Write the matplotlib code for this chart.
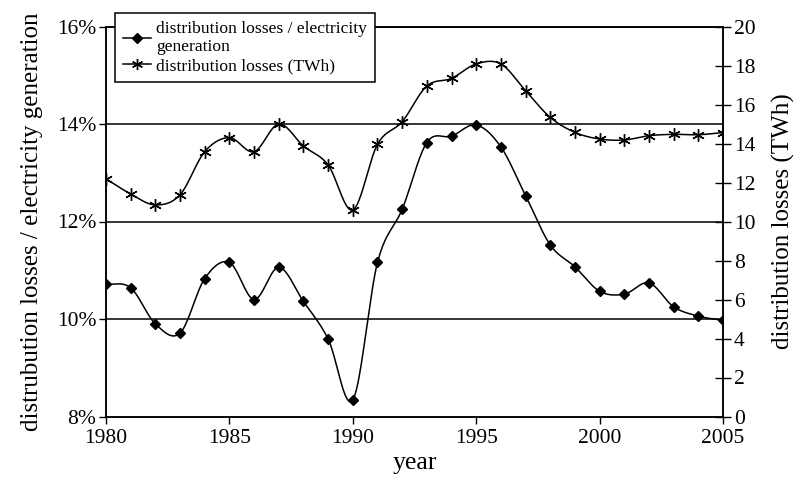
import numpy as np
import matplotlib
matplotlib.use("Agg")
from matplotlib import pyplot as plt
from matplotlib.ticker import FuncFormatter

plt.rcParams['font.family'] = ['Liberation Serif', 'DejaVu Serif']

years = list(range(1980, 2006))
loss_share = [10.72, 10.64, 9.90, 9.71, 10.83, 11.16, 10.40, 11.06, 10.36, 9.59,
              8.34, 11.16, 12.25, 13.62, 13.75, 13.98, 13.53, 12.53, 11.52, 11.07,
              10.57, 10.51, 10.74, 10.25, 10.06, 9.97]
loss_twh = [12.19, 11.41, 10.85, 11.37, 13.58, 14.30, 13.58, 15.00, 13.87, 12.90,
            10.59, 13.96, 15.12, 16.95, 17.34, 18.08, 18.08, 16.71, 15.34, 14.57,
            14.23, 14.18, 14.40, 14.47, 14.45, 14.56]
x_ticks = [1980, 1985, 1990, 1995, 2000, 2005]
left_ticks = [8, 10, 12, 14, 16]
right_ticks = list(range(0, 21, 2))


def smooth(xs, ys, n=20):
    # catmull-rom style smoothing like the spreadsheet "smoothed line"
    xs = np.asarray(xs, float)
    ys = np.asarray(ys, float)
    px = np.concatenate([[2 * xs[0] - xs[1]], xs, [2 * xs[-1] - xs[-2]]])
    py = np.concatenate([[2 * ys[0] - ys[1]], ys, [2 * ys[-1] - ys[-2]]])
    outx, outy = [], []
    t = np.linspace(0, 1, n, endpoint=False)
    for i in range(1, len(px) - 2):
        for p, out in ((px, outx), (py, outy)):
            p0, p1, p2, p3 = p[i - 1], p[i], p[i + 1], p[i + 2]
            out.extend(0.5 * ((2 * p1) + (-p0 + p2) * t
                              + (2 * p0 - 5 * p1 + 4 * p2 - p3) * t ** 2
                              + (-p0 + 3 * p1 - 3 * p2 + p3) * t ** 3))
    outx.append(xs[-1])
    outy.append(ys[-1])
    return outx, outy


fig = plt.figure(figsize=(7.97, 4.79), dpi=100)
ax = fig.add_axes([106 / 797, 1 - 416.5 / 479, (723 - 106) / 797, 390 / 479])
ax2 = ax.twinx()

for y in [10, 12, 14, 16]:
    ax.axhline(y, color='black', lw=1.1, zorder=1)

sx, sy = smooth(years, loss_share)
ax.plot(sx, sy, color='black', lw=1.1, zorder=3)
ax.plot(years, loss_share, 'D', color='black', ms=5.5, zorder=4)

tx, ty = smooth(years, loss_twh)
ax2.plot(tx, ty, color='black', lw=1.1, zorder=3)
ax2.plot(years, loss_twh, marker=(6, 2, 0), ls='none', color='black', ms=9, mew=1.0, zorder=4)

ax.set_xlim(1980, 2005)
ax.set_ylim(8, 16)
ax2.set_ylim(0, 20)
ax.set_xticks(x_ticks)
ax.set_yticks(left_ticks)
ax2.set_yticks(right_ticks)
ax.yaxis.set_major_formatter(FuncFormatter(lambda v, p: '%d%%' % v))

ax.tick_params(axis='both', direction='out', length=5, width=1, labelsize=15.5, colors='black')
ax.tick_params(axis='y', pad=2)
ax2.tick_params(axis='y', direction='inout', length=12, width=1, labelsize=15.5, pad=2)
ax.tick_params(axis='x', pad=4)

for a in (ax, ax2):
    for s in a.spines.values():
        s.set_linewidth(1.1)
        s.set_color('black')

ax.set_xlabel('year', fontsize=18.5, labelpad=3)
ax.set_ylabel('distrubution losses / electricity generation', fontsize=18, labelpad=10)
ax2.set_ylabel('distribution losses (TWh)', fontsize=18, labelpad=12)

h1 = plt.Line2D([], [], color='black', lw=1.1, marker='D', ms=5.5)
h2 = plt.Line2D([], [], color='black', lw=1.1, marker=(6, 2, 0), ms=8)
leg = fig.legend([h1, h2],
                 ['distribution losses / electricity\ngeneration', 'distribution losses (TWh)'],
                 loc='upper left', bbox_to_anchor=(115 / 797, 1 - 13 / 479),
                 bbox_transform=fig.transFigure, borderaxespad=0, fontsize=12.6,
                 fancybox=False, edgecolor='black', framealpha=1, handlelength=1.6,
                 handletextpad=0.3, labelspacing=0.15, borderpad=0.45)
leg.get_frame().set_linewidth(1.1)
leg.set_zorder(10)

fig.savefig('out.png', dpi=100)
